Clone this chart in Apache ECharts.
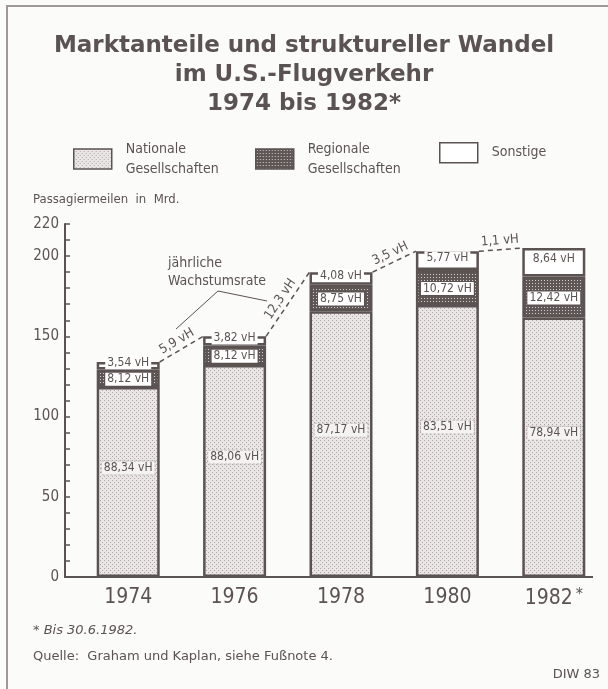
<!DOCTYPE html>
<html>
<head>
<meta charset="utf-8">
<script src="https://cdn.jsdelivr.net/npm/echarts@6/dist/echarts.min.js"></script>
<style>
  html, body { margin: 0; padding: 0; background: #fbfbfa; }
  #chart { width: 608px; height: 689px; }
</style>
</head>
<body>
<div id="chart"></div>
<script>
// Passagiermeilen in Mrd.
const years = ['1974', '1976', '1978', '1980', '1982*'];
const national = [118.4, 132.1, 165.6, 169.5, 161.8];
const regional = [10.9, 12.2, 16.6, 21.8, 25.5];
const other = [4.7, 5.7, 7.8, 11.7, 17.7];
const nationalShare = ['88,34 vH', '88,06 vH', '87,17 vH', '83,51 vH', '78,94 vH'];
const regionalShare = ['8,12 vH', '8,12 vH', '8,75 vH', '10,72 vH', '12,42 vH'];
const otherShare = ['3,54 vH', '3,82 vH', '4,08 vH', '5,77 vH', '8,64 vH'];
const growthRates = ['5,9 vH', '12,3 vH', '3,5 vH', '1,1 vH'];
const yLabels = [0, 50, 100, 150, 200, 220];

const ink = '#5b5352';
const narrow = '"Liberation Sans Narrow", "DejaVu Sans Condensed", sans-serif';

function dots(bg, fg, size, pts) {
  const c = document.createElement('canvas');
  c.width = size; c.height = size;
  const ctx = c.getContext('2d');
  ctx.fillStyle = bg;
  ctx.fillRect(0, 0, size, size);
  ctx.fillStyle = fg;
  pts.forEach(p => ctx.fillRect(p[0], p[1], 1, 1));
  return c;
}
const lightDots = { image: dots('#e9e6e5', '#aca5a3', 4, [[0, 0], [2, 2]]), repeat: 'repeat' };
const darkDots = { image: dots('#5f5756', '#d3cdcb', 3, [[1, 1]]), repeat: 'repeat' };

const totals = national.map((v, i) => v + regional[i] + other[i]);
const growthData = growthRates.map((r, i) => [i, totals[i], totals[i + 1]]);

const chart = echarts.init(document.getElementById('chart'));

function segLabel(texts, extra) {
  return Object.assign({
    show: true,
    position: 'inside',
    formatter: p => texts[p.dataIndex],
    fontFamily: narrow,
    fontSize: 12,
    color: ink,
    padding: [1, 2, 0, 2]
  }, extra);
}

function legendAt(name, left, top, fmt) {
  return {
    data: [{ name: name, icon: 'rect' }],
    left: left,
    top: top,
    padding: 0,
    itemWidth: 38,
    itemHeight: 20,
    selectedMode: false,
    formatter: fmt || (n => n),
    itemStyle: { borderWidth: 1.5, borderColor: ink },
    textStyle: { fontFamily: narrow, fontSize: 14, color: ink, lineHeight: 20, padding: [0, 0, 0, 9] }
  };
}

chart.setOption({
  backgroundColor: '#fbfbfa',
  animation: false,
  title: {
    text: 'Marktanteile und struktureller Wandel\nim U.S.-Flugverkehr\n1974 bis 1982*',
    left: 'center',
    top: 27,
    textStyle: {
      fontFamily: '"DejaVu Sans", sans-serif',
      fontWeight: 'bold',
      fontSize: 23,
      lineHeight: 29,
      color: ink
    }
  },
  legend: [
    legendAt('Nationale Gesellschaften', 73, 139, () => 'Nationale\nGesellschaften'),
    legendAt('Regionale Gesellschaften', 255, 139, () => 'Regionale\nGesellschaften'),
    legendAt('Sonstige', 439, 142)
  ],
  grid: { left: 75, right: 1, top: 224, bottom: 112 },
  xAxis: {
    type: 'category',
    data: years,
    axisLine: { show: false },
    axisTick: { show: false },
    axisLabel: {
      interval: 0,
      formatter: v => v.replace('*', '{s|*}'),
      fontFamily: narrow,
      fontSize: 21,
      color: ink,
      margin: 10,
      rich: { s: { fontFamily: narrow, fontSize: 16, color: ink, padding: [0, 0, 8, 3] } }
    }
  },
  yAxis: {
    type: 'value',
    min: 0,
    max: 220,
    interval: 10,
    offset: 10,
    splitLine: { show: false },
    axisLine: { show: true, lineStyle: { color: ink, width: 2 } },
    axisTick: { show: true, inside: true, length: 5, lineStyle: { color: ink, width: 1.5 } },
    axisLabel: {
      formatter: v => (yLabels.indexOf(v) >= 0 ? String(v) : ''),
      fontFamily: narrow,
      fontSize: 15,
      color: ink,
      margin: 6
    }
  },
  series: [
    {
      name: 'Nationale Gesellschaften',
      type: 'bar',
      stack: 'total',
      barWidth: 63,
      data: national,
      itemStyle: { color: lightDots, borderColor: ink, borderWidth: 2.5 },
      label: segLabel(nationalShare, {
        offset: [0, -14],
        backgroundColor: '#f5f3f2',
        borderColor: '#b3acaa',
        borderWidth: 1,
        borderType: 'dotted'
      })
    },
    {
      name: 'Regionale Gesellschaften',
      type: 'bar',
      stack: 'total',
      barWidth: 63,
      data: regional,
      itemStyle: { color: darkDots, borderColor: ink, borderWidth: 2.5 },
      label: segLabel(regionalShare, {
        offset: [0, 1],
        backgroundColor: '#ffffff',
        borderColor: ink,
        borderWidth: 1
      })
    },
    {
      name: 'Sonstige',
      type: 'bar',
      stack: 'total',
      barWidth: 63,
      data: other,
      itemStyle: { color: '#ffffff', borderColor: ink, borderWidth: 2.5 },
      label: segLabel(otherShare, { offset: [0, -3], backgroundColor: '#ffffff' })
    },
    {
      name: 'Wachstumsrate',
      type: 'custom',
      z: 5,
      data: growthData,
      renderItem: function (params, api) {
        const i = api.value(0);
        const a = api.coord([i, api.value(1)]);
        const b = api.coord([i + 1, api.value(2)]);
        const half = 31.5;
        const x1 = a[0] + half, y1 = a[1], x2 = b[0] - half, y2 = b[1];
        const ang = Math.atan2(y1 - y2, x2 - x1);
        const mx = (x1 + x2) / 2, my = (y1 + y2) / 2;
        const off = 9;
        return {
          type: 'group',
          children: [
            {
              type: 'line',
              shape: { x1: x1, y1: y1, x2: x2, y2: y2 },
              style: { stroke: ink, lineWidth: 1.5, lineDash: [5, 4] }
            },
            {
              type: 'text',
              x: mx - Math.sin(ang) * off,
              y: my - Math.cos(ang) * off,
              rotation: ang,
              style: {
                text: growthRates[params.dataIndex],
                align: 'center',
                verticalAlign: 'middle',
                fontFamily: narrow,
                fontSize: 13,
                fill: ink
              }
            }
          ]
        };
      }
    }
  ],
  graphic: [
    { type: 'polyline', shape: { points: [[7, 689], [7, 6], [608, 6]] }, style: { stroke: '#a09897', lineWidth: 2, fill: null } },
    { type: 'line', shape: { x1: 64, y1: 577, x2: 593, y2: 577 }, style: { stroke: ink, lineWidth: 2 } },
    { type: 'text', left: 33, top: 193, style: { text: 'Passagiermeilen  in  Mrd.', fontFamily: narrow, fontSize: 13, fill: ink } },
    { type: 'text', left: 168, top: 254, style: { text: 'jährliche\nWachstumsrate', fontFamily: narrow, fontSize: 14, lineHeight: 18, fill: ink } },
    { type: 'polyline', shape: { points: [[176, 329], [218, 291], [267, 301]] }, style: { stroke: ink, lineWidth: 1, fill: null } },
    { type: 'text', left: 33, top: 624, style: { text: '* Bis 30.6.1982.', fontFamily: '"DejaVu Sans", sans-serif', fontStyle: 'italic', fontSize: 13, fill: ink } },
    { type: 'text', left: 33, top: 650, style: { text: 'Quelle:  Graham und Kaplan, siehe Fußnote 4.', fontFamily: '"DejaVu Sans", sans-serif', fontSize: 13, fill: ink } },
    { type: 'text', right: 8, top: 668, style: { text: 'DIW 83', fontFamily: '"DejaVu Sans", sans-serif', fontSize: 13, fill: ink } }
  ]
});
</script>
</body>
</html>
